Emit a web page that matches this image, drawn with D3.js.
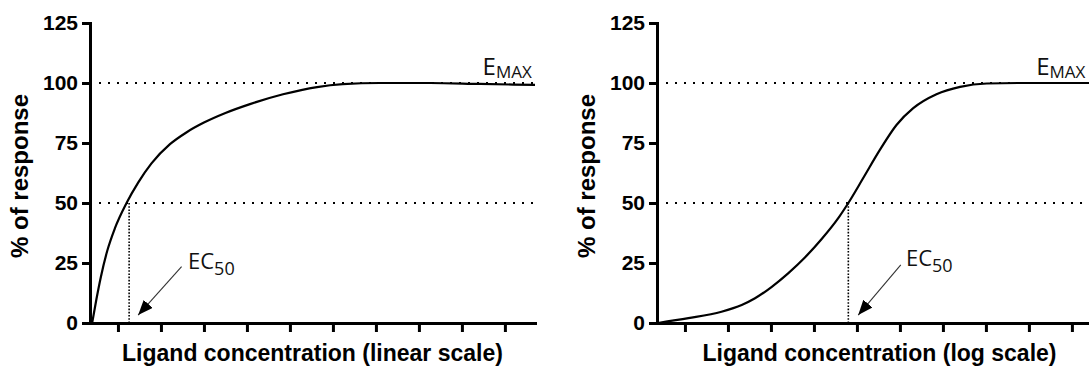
<html>
    <head>
        <script src="https://d3js.org/d3.v7.min.js"></script>
        <style>
            body { margin: 0; background: #fff; }
            .axis path, .axis line { stroke: #000; stroke-width: 3; }
            .axis path { stroke-linecap: square; }
            .axis text { font-family: "Liberation Sans", Arial, sans-serif; font-weight: bold; font-size: 21px; fill: #000; }
            .title { font-family: "Liberation Sans", Arial, sans-serif; font-weight: bold; font-size: 23px; fill: #000; }
            .note { font-family: "Open Sans", sans-serif; font-size: 22px; fill: #111; }
        </style>
    </head>
    <body>
        <svg id="graph" width="1089" height="367"></svg>
        <script>
            // values
            const yTicks = [0, 25, 50, 75, 100, 125];
            const xTicks = [1, 2, 3, 4, 5, 6, 7, 8, 9, 10];
            const refLevels = [50, 100];

            const linearX = [0.40, 0.50, 0.60, 0.75, 0.93, 1.20, 1.47, 1.78, 2.21, 2.60, 3.00, 3.50, 4.07, 4.84, 5.63, 6.23, 7.09, 8.26, 9.42, 10.7];
            const linearY = [0, 10, 19, 30, 39.5, 50, 58.5, 66.5, 74.5, 79.5, 83.5, 87.5, 91.2, 95.3, 98.3, 99.5, 100, 100, 99.6, 99.2];

            const logX = [0.37, 1.08, 1.85, 2.32, 2.63, 3.02, 3.40, 3.79, 4.18, 4.57, 4.80, 5.15, 5.53, 5.92, 6.31, 6.85, 7.40, 8.02, 8.79, 10.7];
            const logY = [0, 2, 4.7, 7.5, 10.3, 15.1, 20.7, 27.3, 35, 43.8, 50, 60.5, 72, 82.5, 89.5, 95.3, 98.4, 99.8, 100, 100];

            const ec50 = [1.26, 4.80];
            const xTitles = ["Ligand concentration (linear scale)", "Ligand concentration (log scale)"];
            const yTitle = "% of response";

            const canvas = d3.select("svg#graph");
            const panelOffsets = [0, 567];

            const xScale = d3.scaleLinear().domain([0.35, 10.7]).range([90, 535]);
            const yScale = d3.scaleLinear().domain([0, 125]).range([323, 23]);

            // arrowhead
            canvas.append("defs").append("marker")
                .attr("id", "arrow")
                .attr("markerUnits", "userSpaceOnUse")
                .attr("markerWidth", 16).attr("markerHeight", 12)
                .attr("refX", 15).attr("refY", 6)
                .attr("orient", "auto")
                .append("path").attr("d", "M0,0L15,6L0,12Z").attr("fill", "#000");

            const panels = [
                {xs: linearX, ys: linearY, ec: ec50[0], title: xTitles[0],
                 ecText: [2.63, 22.7], arrowFrom: [2.48, 23.5], arrowTo: [1.47, 3.3], emaxX: 9.48},
                {xs: logX, ys: logY, ec: ec50[1], title: xTitles[1],
                 ecText: [6.14, 23.8], arrowFrom: [6.02, 24.2], arrowTo: [5.03, 3.3], emaxX: 9.17}
            ];

            panels.forEach((p, i) => {
                const g = canvas.append("g").attr("transform", `translate(${panelOffsets[i]},0)`);
                const pts = p.xs.map((x, j) => ({x: x, y: p.ys[j]}));

                // dotted reference lines
                refLevels.forEach(v => {
                    g.append("line")
                        .attr("x1", xScale.range()[0] + 9).attr("x2", xScale.range()[1])
                        .attr("y1", yScale(v)).attr("y2", yScale(v))
                        .attr("stroke", "#000").attr("stroke-width", 2)
                        .attr("stroke-dasharray", "2,7");
                });
                g.append("line")
                    .attr("x1", xScale(p.ec)).attr("x2", xScale(p.ec))
                    .attr("y1", yScale(50)).attr("y2", yScale(0))
                    .attr("stroke", "#000").attr("stroke-width", 1.6)
                    .attr("stroke-dasharray", "1.6,1.6");

                // curve
                const lineGen = d3.line()
                    .x(d => xScale(d.x))
                    .y(d => yScale(d.y))
                    .curve(d3.curveMonotoneX);
                g.append("path")
                    .datum(pts)
                    .attr("fill", "none")
                    .attr("stroke", "#000")
                    .attr("stroke-width", 2.2)
                    .attr("d", lineGen);

                // axes
                g.append("g")
                    .attr("class", "axis")
                    .attr("transform", `translate(${xScale.range()[0]},0)`)
                    .call(d3.axisLeft(yScale).tickValues(yTicks).tickSize(8).tickPadding(4).tickSizeOuter(0));
                g.append("g")
                    .attr("class", "axis")
                    .attr("transform", `translate(0,${yScale(0)})`)
                    .call(d3.axisBottom(xScale).tickValues(xTicks).tickSize(9).tickFormat("").tickSizeOuter(0));

                // titles
                g.append("text")
                    .attr("class", "title")
                    .attr("text-anchor", "middle")
                    .attr("x", (xScale.range()[0] + xScale.range()[1]) / 2)
                    .attr("y", 361)
                    .text(p.title);
                g.append("text")
                    .attr("class", "title")
                    .attr("text-anchor", "middle")
                    .attr("transform", "translate(28,176) rotate(-90)")
                    .style("font-size", "24px")
                    .text(yTitle);

                // EC50 annotation
                const ecT = g.append("text").attr("class", "note")
                    .attr("x", xScale(p.ecText[0])).attr("y", yScale(p.ecText[1]));
                ecT.append("tspan").text("EC");
                ecT.append("tspan").attr("dy", 6).style("font-size", "18px").text("50");
                g.append("line")
                    .attr("x1", xScale(p.arrowFrom[0])).attr("y1", yScale(p.arrowFrom[1]))
                    .attr("x2", xScale(p.arrowTo[0])).attr("y2", yScale(p.arrowTo[1]))
                    .attr("stroke", "#333").attr("stroke-width", 1.1)
                    .attr("marker-end", "url(#arrow)");

                // Emax annotation
                const emT = g.append("text").attr("class", "note")
                    .attr("x", xScale(p.emaxX)).attr("y", yScale(100) - 8)
                    .style("font-size", "24px");
                emT.append("tspan").text("E");
                emT.append("tspan").attr("dy", 3).style("font-size", "17px").text("MAX");
            });
        </script>
    </body>
</html>
